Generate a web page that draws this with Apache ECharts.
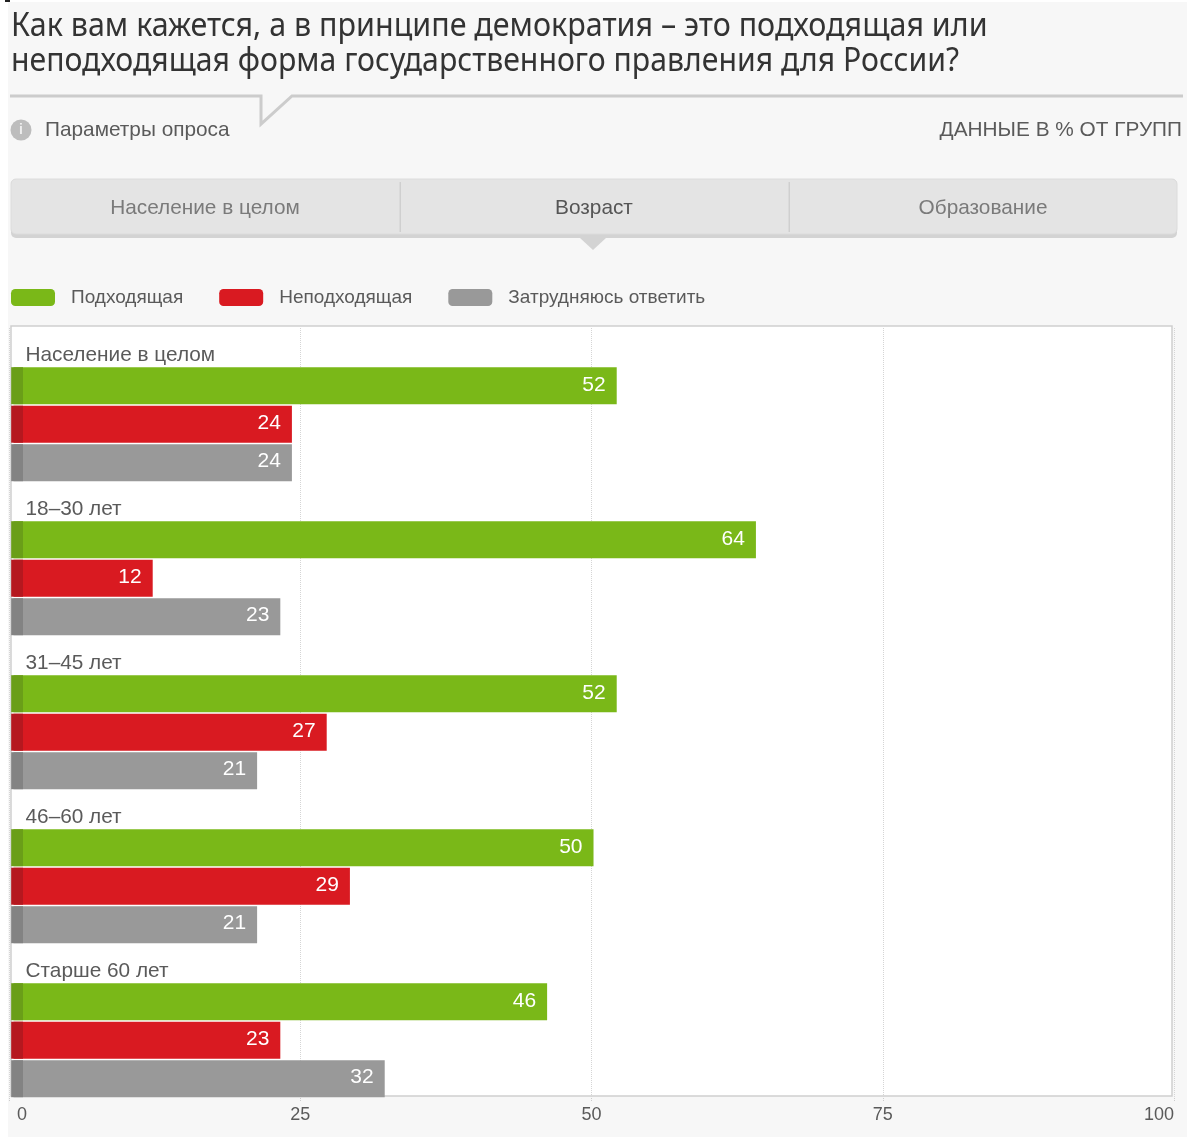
<!DOCTYPE html>
<html>
<head>
<meta charset="utf-8">
<title>Демократия в России</title>
<script src="https://cdn.jsdelivr.net/npm/echarts@6/dist/echarts.min.js"></script>
<style>
    html, body { margin: 0; padding: 0; background: #fff; }
    #chart { width: 1187px; height: 1137px; }
</style>
</head>
<body>
<div id="chart"></div>
<script>
const titleLines = [
    'Как вам кажется, а в принципе демократия – это подходящая или',
    'неподходящая форма государственного правления для России?'
];
const tabs = ['Население в целом', 'Возраст', 'Образование'];
const categories = ['Население в целом', '18–30 лет', '31–45 лет', '46–60 лет', 'Старше 60 лет'];
const seriesNames = ['Подходящая', 'Неподходящая', 'Затрудняюсь ответить'];
const suitable = [52, 64, 52, 50, 46];
const unsuitable = [24, 12, 27, 29, 23];
const hardToSay = [24, 23, 21, 21, 32];
const tickValues = [0, 25, 50, 75, 100];
const colors = ['#7ab818', '#d91a21', '#999999'];
const stubColors = ['#6a9e18', '#b5181f', '#838383'];

const FONT = '"Liberation Sans", Arial, sans-serif';
const TEXT = '#5a5a5a';

eshipDrawChart();

function headerGraphics() {
    let items = [
        // page background
        { type: 'rect', z: -10, shape: { x: 8, y: 2, width: 1179, height: 1135 }, style: { fill: '#f7f7f7' } },
        { type: 'rect', z: -10, shape: { x: 5, y: 0, width: 5, height: 2 }, style: { fill: '#222222' } },
        // title, squeezed because the original face is narrower than anything installed
        {
            type: 'text', z: -5, x: 11, y: 10, scaleX: 0.9226, scaleY: 1,
            style: { x: 0, y: 0, text: titleLines[0], font: '33px "Noto Sans"', fill: '#333333' }
        },
        {
            type: 'text', z: -5, x: 11, y: 45, scaleX: 0.915, scaleY: 1,
            style: { x: 0, y: 0, text: titleLines[1], font: '33px "Noto Sans"', fill: '#333333' }
        },
        // divider with the notch
        { type: 'polyline', z: -5, shape: { points: [[10, 96], [261, 96], [261, 124], [292, 96], [1183, 96]] }, style: { fill: null, stroke: '#cccccc', lineWidth: 3 } },
        // info icon
        { type: 'circle', z: -5, shape: { cx: 21, cy: 130, r: 10.5 }, style: { fill: '#bdbdbd' } },
        { type: 'text', z: -4, style: { x: 21, y: 130, text: 'i', font: 'bold 14px ' + FONT, fill: '#eeeeee', align: 'center', verticalAlign: 'middle' } },
        { type: 'text', z: -5, style: { x: 45, y: 130, text: 'Параметры опроса', font: '20.8px ' + FONT, fill: TEXT, verticalAlign: 'middle' } },
        { type: 'text', z: -5, style: { x: 1182, y: 130, text: 'ДАННЫЕ В % ОТ ГРУПП', font: '20.8px ' + FONT, fill: TEXT, align: 'right', verticalAlign: 'middle' } },
        // tab strip
        { type: 'rect', z: -6, shape: { x: 11, y: 179, width: 1166, height: 59, r: 5 }, style: { fill: '#d3d3d3' } },
        { type: 'rect', z: -5, shape: { x: 11, y: 179, width: 1166, height: 55, r: 5 }, style: { fill: '#e4e4e4', stroke: '#dcdcdc', lineWidth: 1 } },
        { type: 'rect', z: -5, shape: { x: 399.5, y: 182, width: 1.5, height: 50 }, style: { fill: '#cfcfcf' } },
        { type: 'rect', z: -5, shape: { x: 788.5, y: 182, width: 1.5, height: 50 }, style: { fill: '#cfcfcf' } },
        { type: 'polygon', z: -5, shape: { points: [[580, 238], [606, 238], [593, 250]] }, style: { fill: '#d3d3d3' } },
        // white panel behind the bars
        { type: 'rect', z: -5, shape: { x: 11, y: 326, width: 1161, height: 770 }, style: { fill: '#ffffff', stroke: '#cfcfcf', lineWidth: 1.5 } }
    ];
    let tabCenters = [205, 594, 983];
    tabs.forEach(function (tab, i) {
        items.push({
            type: 'text', z: -4,
            style: { x: tabCenters[i], y: 208, text: tab, font: '20.8px ' + FONT, fill: i === 1 ? '#555555' : '#7a7a7a', align: 'center', verticalAlign: 'middle' }
        });
    });
    return items;
}

// darker stub at the start of every bar
function renderStubs(params, api) {
    let cat = api.value(0);
    let band = api.size([0, 1])[1];
    let slot = band / 4;
    let center = api.coord([0, cat]);
    let left = api.coord([api.value(1), cat])[0];
    let right = api.coord([api.value(2), cat])[0];
    let children = [];
    for (let row = 1; row < 4; row++) {
        children.push({
            type: 'rect',
            shape: { x: left, y: center[1] - band / 2 + slot * row + 0.7, width: right - left, height: 37 },
            style: { fill: stubColors[row - 1] }
        });
    }
    return { type: 'group', children: children };
}

function eshipDrawChart() {
    let myChart = echarts.init(document.getElementById('chart'), null, { renderer: 'canvas' });

    let valueLabel = {
        show: true,
        position: 'insideRight',
        distance: 11,
        offset: [0, -1],
        color: '#ffffff',
        fontFamily: FONT,
        fontSize: 21
    };
    let values = [suitable, unsuitable, hardToSay];

    let barSeries = seriesNames.map(function (name, i) {
        return {
            name: name,
            type: 'bar',
            xAxisIndex: 1,
            barWidth: 37,
            barGap: '3.9%',
            barCategoryGap: 0,
            itemStyle: { color: colors[i] },
            label: valueLabel,
            data: values[i]
        };
    });

    let option = {
        animation: false,
        backgroundColor: '#ffffff',
        textStyle: { fontFamily: FONT },
        graphic: { elements: headerGraphics() },
        legend: {
            data: seriesNames,
            left: 11,
            top: 288,
            padding: 0,
            icon: 'roundRect',
            itemWidth: 44,
            itemHeight: 17,
            itemGap: 36,
            selectedMode: false,
            textStyle: { color: TEXT, fontFamily: FONT, fontSize: 19, padding: [0, 0, 0, 11] }
        },
        grid: { left: 9, width: 1165, top: 328, height: 770 },
        xAxis: [
            {
                type: 'value',
                min: tickValues[0],
                max: tickValues[tickValues.length - 1],
                interval: tickValues[1] - tickValues[0],
                position: 'bottom',
                axisLine: { show: false },
                axisTick: { show: true, length: 4, lineStyle: { color: '#cccccc', type: 'dotted' } },
                splitLine: { show: true, lineStyle: { color: '#d5d5d5', type: 'dotted' } },
                axisLabel: {
                    margin: 8,
                    color: TEXT,
                    fontFamily: FONT,
                    fontSize: 18,
                    alignMaxLabel: 'right',
                    alignMinLabel: 'left',
                    formatter: function (v) { return v === 0 ? '{zero|0}' : String(v); },
                    rich: { zero: { padding: [0, 0, 0, 8], color: TEXT, fontFamily: FONT, fontSize: 18 } }
                }
            },
            {
                // the bars sit a few pixels right of the printed scale in the source
                type: 'value',
                show: false,
                min: -0.388,
                max: 100.04,
                position: 'bottom'
            }
        ],
        yAxis: {
            type: 'category',
            inverse: true,
            data: categories,
            axisLine: { show: false },
            axisTick: { show: false },
            axisLabel: { show: false },
            splitLine: { show: false }
        },
        series: [
            {
                // empty first row of each group carries the group name
                name: 'Группа',
                type: 'bar',
                xAxisIndex: 1,
                barWidth: 37,
                barGap: '3.9%',
                barCategoryGap: 0,
                silent: true,
                label: {
                    show: true,
                    position: 'right',
                    distance: 12,
                    offset: [0, 8],
                    formatter: '{b}',
                    color: TEXT,
                    fontFamily: FONT,
                    fontSize: 20.8
                },
                data: categories.map(function () { return 0; })
            }
        ].concat(barSeries, [
            {
                name: 'Начало',
                type: 'custom',
                xAxisIndex: 1,
                silent: true,
                z: 3,
                renderItem: renderStubs,
                encode: { x: [1, 2], y: 0 },
                data: categories.map(function (c, i) { return [i, -0.2, 0.82]; })
            }
        ])
    };

    myChart.setOption(option);
}
</script>
</body>
</html>
